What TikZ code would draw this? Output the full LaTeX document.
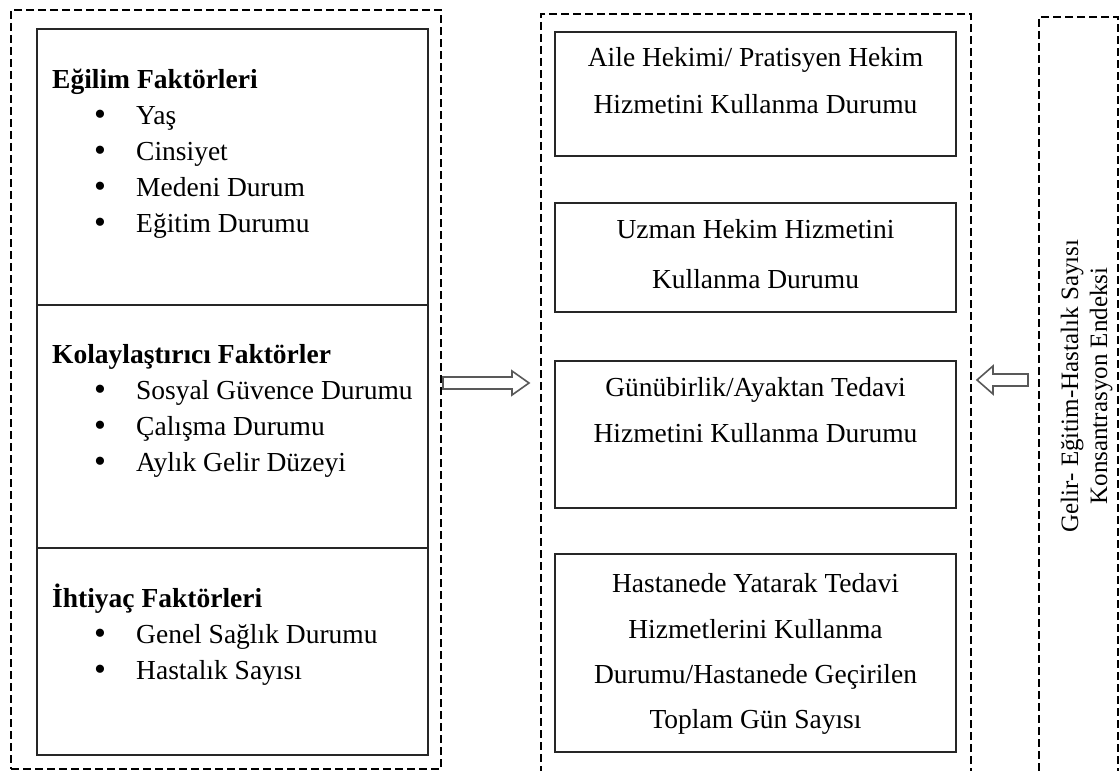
\documentclass[tikz,border=0pt]{standalone}
\usepackage{fontspec}
\setmainfont{Liberation Serif}
\usetikzlibrary{calc}
\begin{document}
\begin{tikzpicture}[x=1pt,y=-1pt,
  frame/.style={draw=black, line width=1.4pt, dash pattern=on 8pt off 4pt,
    inner sep=0pt, outer sep=0pt, anchor=north west},
  solidbox/.style={draw=black!85, line width=1.6pt, inner sep=0pt, outer sep=0pt,
    anchor=north west},
  txt/.style={font=\fontsize{27.5}{33}\selectfont, inner sep=0pt, anchor=base west},
  head/.style={txt, font=\fontsize{27.5}{33}\selectfont\bfseries},
  ctxt/.style={font=\fontsize{27.5}{33}\selectfont, inner sep=0pt, anchor=base},
  bul/.style={font=\fontsize{34}{34}\selectfont, inner sep=0pt, anchor=base},
  vtxt/.style={font=\fontsize{25}{30}\selectfont, inner sep=0pt, anchor=base, rotate=90},
  hollow/.style={draw=black!65, line width=1.6pt, fill=white, line join=miter}]

\clip (0,0) rectangle (1120,771);
\fill[white] (0,0) rectangle (1120,771);

% dashed frames
\node[frame, minimum width=430pt, minimum height=759pt] (lframe) at (11,10) {};
\node[frame, minimum width=430pt, minimum height=800pt] (mframe) at (541,14) {};
\node[frame, minimum width=79pt, minimum height=800pt] (rframe) at (1039,17) {};

% left column: three factor groups
\node[solidbox, minimum width=391pt, minimum height=276pt] (s1) at (37,29) {};
\node[solidbox, minimum width=391pt, minimum height=243pt] (s2) at (37,305) {};
\node[solidbox, minimum width=391pt, minimum height=207pt] (s3) at (37,548) {};

\node[head] (h1) at (52,88) {Eğilim Faktörleri};
\foreach \y/\t [count=\i] in {124/Yaş, 160/Cinsiyet, 196/Medeni Durum, 232/Eğitim Durumu}{
  \node[bul] (b1\i) at (100,\y+1) {\textbullet};
  \node[txt] (t1\i) at (136,\y) {\t};
}

\node[head] (h2) at (52,363) {Kolaylaştırıcı Faktörler};
\foreach \y/\t [count=\i] in {399/Sosyal Güvence Durumu, 435/Çalışma Durumu, 471/Aylık Gelir Düzeyi}{
  \node[bul] (b2\i) at (100,\y+1) {\textbullet};
  \node[txt] (t2\i) at (136,\y) {\t};
}

\node[head] (h3) at (52,607) {İhtiyaç Faktörleri};
\foreach \y/\t [count=\i] in {643/Genel Sağlık Durumu, 679/Hastalık Sayısı}{
  \node[bul] (b3\i) at (100,\y+1) {\textbullet};
  \node[txt] (t3\i) at (136,\y) {\t};
}

% middle column: service use outcomes
\node[solidbox, minimum width=401pt, minimum height=124pt] (mA) at (555,32) {};
\node[solidbox, minimum width=401pt, minimum height=109pt] (mB) at (555,203) {};
\node[solidbox, minimum width=401pt, minimum height=147pt] (mC) at (555,361) {};
\node[solidbox, minimum width=401pt, minimum height=198pt] (mD) at (555,554) {};

\node[ctxt] (a1) at (755.5,66) {Aile Hekimi/ Pratisyen Hekim};
\node[ctxt] (a2) at (755.5,113) {Hizmetini Kullanma Durumu};
\node[ctxt] (u1) at (755.5,238) {Uzman Hekim Hizmetini};
\node[ctxt] (u2) at (755.5,288) {Kullanma Durumu};
\node[ctxt] (g1) at (755.5,396) {Günübirlik/Ayaktan Tedavi};
\node[ctxt] (g2) at (755.5,442) {Hizmetini Kullanma Durumu};
\node[ctxt] (d1) at (755.5,592) {Hastanede Yatarak Tedavi};
\node[ctxt] (d2) at (755.5,638) {Hizmetlerini Kullanma};
\node[ctxt] (d3) at (755.5,683) {Durumu/Hastanede Geçirilen};
\node[ctxt] (d4) at (755.5,728) {Toplam Gün Sayısı};

% right column: vertical label
\node[vtxt] (v1) at (1078,386) {Gelir- Eğitim-Hastalık Sayısı};
\node[vtxt] (v2) at (1107,386) {Konsantrasyon Endeksi};

% hollow block arrows between the columns
\coordinate (la0) at (lframe.east |- 0,383);
\coordinate (la1) at ($(mframe.west |- 0,383)+(-12,0)$);
\draw[hollow] ($(la0)+(2,-6)$) -- ($(la1)+(-17,-6)$) -- ($(la1)+(-17,-12)$) -- (la1)
  -- ($(la1)+(-17,12)$) -- ($(la1)+(-17,6)$) -- ($(la0)+(2,6)$) -- cycle;

\coordinate (ra0) at ($(rframe.west |- 0,380)+(-11,0)$);
\coordinate (ra1) at ($(mframe.east |- 0,380)+(6,0)$);
\draw[hollow] ($(ra0)+(0,-6)$) -- ($(ra1)+(16,-6)$) -- ($(ra1)+(16,-14)$) -- (ra1)
  -- ($(ra1)+(16,14)$) -- ($(ra1)+(16,6)$) -- ($(ra0)+(0,6)$) -- cycle;

\end{tikzpicture}
\end{document}
